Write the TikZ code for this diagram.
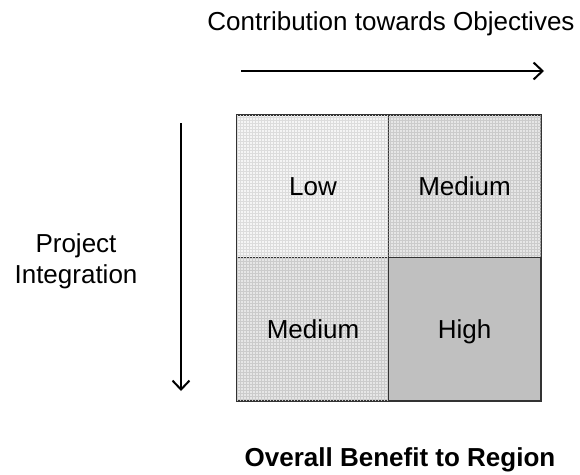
\documentclass[tikz,border=0pt]{standalone}
\usepackage{fontspec}
\setmainfont{Liberation Sans}
\usetikzlibrary{arrows.meta,patterns}
\definecolor{lowc}{HTML}{F5F5F5}
\definecolor{lowp}{HTML}{DCDCDC}
\definecolor{medc}{HTML}{E6E6E6}
\definecolor{medp}{HTML}{CBCBCB}
\definecolor{highc}{HTML}{C0C0C0}
\definecolor{edgec}{HTML}{333333}
\tikzset{
  cell/.style={draw=edgec, line width=1.5pt, minimum width=152pt, minimum height=143pt, inner sep=0pt, text height=18.6pt, text depth=0pt, font=\fontsize{26}{31}\selectfont, anchor=center},
  lowcell/.style={cell, fill=lowc, postaction={pattern=grid, pattern color=lowp}},
  medcell/.style={cell, fill=medc, postaction={pattern=grid, pattern color=medp}},
  highcell/.style={cell, fill=highc},
  lbl/.style={font=\fontsize{26}{31}\selectfont, inner sep=0pt, align=center, anchor=base},
  dirarrow/.style={line width=2pt, -{Straight Barb[length=9pt,width=17pt,line width=2pt]}}
}
\begin{document}
\begin{tikzpicture}[x=1pt,y=-1pt]
\useasboundingbox (0,0) rectangle (580,474);
\node[lowcell] (low) at (313,186.5) {Low};
\node[medcell] (medr) at (464.5,186.5) {Medium};
\node[medcell] (medl) at (313,329) {Medium};
\node[highcell] (high) at (464.5,329) {High};
\draw[edgec, line width=1.5pt] (low.north west) rectangle (high.south east);
\node[lbl] (contrib) at (391,30) {Contribution towards Objectives};
\node[lbl] (proj) at (76,283) {Project\\Integration};
\node[lbl, font=\fontsize{26}{31}\selectfont\bfseries] (overall) at (400,466) {Overall Benefit to Region};
\coordinate (hs) at (241,71);
\coordinate (he) at (544,71);
\coordinate (vs) at (181,123);
\coordinate (ve) at (181,391);
\draw[dirarrow] (hs) -- (he);
\draw[dirarrow] (vs) -- (ve);
\end{tikzpicture}
\end{document}
